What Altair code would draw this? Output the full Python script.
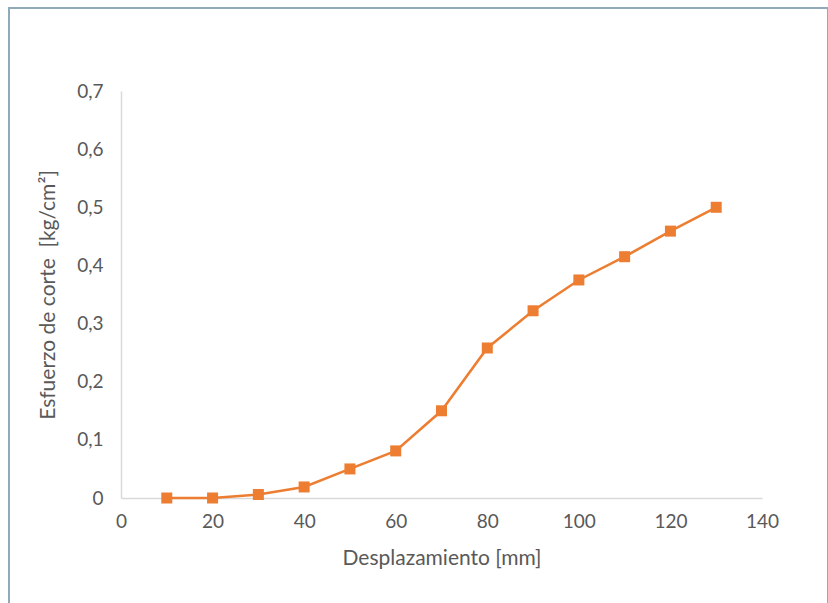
import altair as alt
import pandas as pd

desplazamiento = [10, 20, 30, 40, 50, 60, 70, 80, 90, 100, 110, 120, 130]
esfuerzo = [0.0, 0.0, 0.006, 0.019, 0.05, 0.081, 0.15, 0.258, 0.322, 0.375, 0.415, 0.459, 0.5]

df = pd.DataFrame({"x": desplazamiento, "y": esfuerzo})

FONT = "Lato"
ORANGE = "#ED7D31"

xenc = alt.X("x:Q", scale=alt.Scale(domain=[0, 140], nice=False),
             axis=alt.Axis(values=[0, 20, 40, 60, 80, 100, 120, 140], title="Desplazamiento [mm]",
                           grid=False, ticks=False, domainColor="#d9d9d9", domainWidth=1.5,
                           labelColor="#595959", labelFontSize=19, labelPadding=14, labelFlush=False,
                           titleColor="#595959", titleFontSize=21, titleFontWeight="normal",
                           titlePadding=16, labelFont=FONT, titleFont=FONT))
yenc = alt.Y("y:Q", scale=alt.Scale(domain=[0, 0.7], nice=False),
             axis=alt.Axis(values=[0, 0.1, 0.2, 0.3, 0.4, 0.5, 0.6, 0.7],
                           title="Esfuerzo de corte\u00a0 [kg/cm²]",
                           labelExpr="datum.value == 0 ? '0' : replace(format(datum.value, '.1f'), '.', ',')",
                           grid=False, ticks=False, domainColor="#d9d9d9", domainWidth=1.5,
                           labelColor="#595959", labelFontSize=19, labelPadding=18, labelFlush=False,
                           titleColor="#595959", titleFontSize=21, titleFontWeight="normal",
                           titlePadding=18, labelFont=FONT, titleFont=FONT))

line = alt.Chart(df).mark_line(color=ORANGE, strokeWidth=2.5).encode(x=xenc, y=yenc)
pts = alt.Chart(df).mark_square(color=ORANGE, size=121, opacity=1).encode(x="x:Q", y="y:Q")

frame = alt.Chart(pd.DataFrame({"a": [0]})).mark_rect(
    fill=None, stroke="#8faab8", strokeWidth=2, clip=False
).encode(x=alt.value(-112), x2=alt.value(707), y=alt.value(-83), y2=alt.value(620))

chart = alt.layer(frame, line, pts).properties(
    width=641, height=407,
    autosize=alt.AutoSizeParams(type="none"),
    padding={"left": 121, "top": 91, "right": 66, "bottom": 105},
    background="white",
).configure_view(stroke=None)

chart.save("out.html", embed_options={"renderer": "svg", "actions": False})
